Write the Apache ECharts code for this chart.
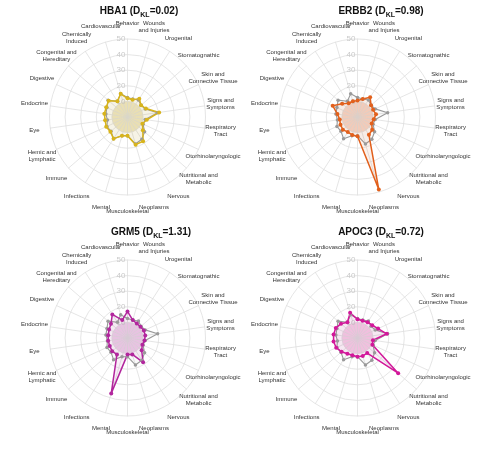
<!DOCTYPE html>
<html>
<head>
<meta charset="utf-8">
<style>
  html, body { margin: 0; padding: 0; background: #fff; }
  #chart { width: 484px; height: 449px; }
</style>
<script src="https://cdn.jsdelivr.net/npm/echarts@6/dist/echarts.min.js"></script>
</head>
<body>
<div id="chart"></div>
<script>
// ----- data
var categories = [
  'Behavior', 'Cardiovascular', 'Chemically\nInduced', 'Congenital and\nHereditary',
  'Digestive', 'Endocrine', 'Eye', 'Hemic and\nLymphatic', 'Immune', 'Infections',
  'Mental', 'Musculoskeletal', 'Neoplasms', 'Nervous', 'Nutritional and\nMetabolic',
  'Otorhinolaryngologic', 'Respiratory\nTract', 'Signs and\nSymptoms',
  'Skin and\nConnective Tissue', 'Stomatognathic', 'Urogenital', 'Wounds\nand Injuries'
];
var radialTicks = [0, 10, 20, 30, 40, 50];

var genes = ['HBA1', 'ERBB2', 'GRM5', 'APOC3'];
var dkl = ['0.02', '0.98', '1.31', '0.72'];

// background (grey) distribution, shared by all panels
var reference = [12.5, 15.5, 12, 16.5, 14.5, 14, 13, 14.5, 14, 16.5, 12.5, 12,
                 18, 17, 14.5, 11, 11.5, 19.5, 12.5, 11.5, 13, 12];

var hba1  = [12, 15.5, 12, 16, 15, 15, 14.5, 15, 14.5, 16.5, 12.5, 12,
             18.5, 18.5, 13, 10.5, 12.5, 20.5, 13, 11.5, 14, 11.5];
var erbb2 = [10.5, 10.5, 10.5, 13, 17.5, 13, 11.5, 12, 12.4, 11.5, 12, 12.4,
             48.5, 13.5, 12.5, 10, 10.5, 12, 11, 11.5, 15, 12];
var grm5  = [17, 12, 18, 14, 13, 12.5, 12.5, 12.5, 13, 12.5, 37, 10.5,
             11, 18.5, 12, 10.5, 11, 11.5, 11.5, 11, 11, 12];
var apoc3 = [12, 16.8, 12, 14, 15.3, 15.5, 15.5, 15, 13.5, 12, 11.5, 12,
             12, 11.5, 34.5, 10.5, 10, 19, 14.5, 12.5, 12, 11.5];

var geneValues = [hba1, erbb2, grm5, apoc3];

// ----- layout / styling
var panels = [
  { center: [127.5, 117], title: [139, 6],   color: '#d8b41c', fill: 'rgba(216,180,28,0.13)', disc: '#f1e8c4' },
  { center: [357.5, 117], title: [381, 6],   color: '#e2601c', fill: 'rgba(226,96,28,0.13)',  disc: '#f9dacb' },
  { center: [127.5, 338], title: [151, 227], color: '#b2269d', fill: 'rgba(178,38,157,0.11)', disc: '#f1d4ec' },
  { center: [357.5, 338], title: [381, 227], color: '#d2189a', fill: 'rgba(210,24,154,0.11)', disc: '#f8d2e8' }
];

var FONT = 'Liberation Sans, Arial, sans-serif';

var titles = [], radars = [], series = [];

panels.forEach(function (p, k) {
  titles.push({
    text: '{b|' + genes[k] + ' (D}{s|KL}{b|=' + dkl[k] + ')}',
    left: p.title[0],
    top: p.title[1],
    textAlign: 'center',
    padding: 0,
    textStyle: {
      rich: {
        b: { fontFamily: FONT, fontSize: 10, fontWeight: 'bold', color: '#111', lineHeight: 12, verticalAlign: 'top' },
        s: { fontFamily: FONT, fontSize: 7, fontWeight: 'bold', color: '#111', lineHeight: 8, padding: [6, 0, 0, 0], verticalAlign: 'top' }
      }
    }
  });

  radars.push({
    center: p.center,
    radius: 78,
    startAngle: 90,
    shape: 'circle',
    splitNumber: radialTicks.length - 1,
    nameGap: 16,
    indicator: categories.map(function (c, i) {
      var ind = { name: c, min: radialTicks[0], max: radialTicks[radialTicks.length - 1] };
      if (i === 0) ind.axisLabel = { show: true };
      return ind;
    }),
    axisName: {
      color: '#333', fontFamily: FONT, fontSize: 6, lineHeight: 7,
      align: 'center', verticalAlign: 'middle'
    },
    axisLine: { lineStyle: { color: '#dedede', width: 0.8 } },
    splitLine: { lineStyle: { color: '#dedede', width: 0.8 } },
    splitArea: { show: true, areaStyle: { color: [p.disc, 'rgba(0,0,0,0)', 'rgba(0,0,0,0)', 'rgba(0,0,0,0)', 'rgba(0,0,0,0)'] } },
    axisTick: { show: false },
    axisLabel: {
      show: false, color: '#c9c9c9', fontFamily: FONT, fontSize: 8, margin: 2,
      formatter: function (v) { return v === 0 ? '' : v; }
    }
  });

  series.push({
    type: 'radar',
    radarIndex: k,
    symbol: 'circle',
    data: [
      {
        name: 'Reference', value: reference, symbolSize: 3.5,
        lineStyle: { color: '#9a9a9a', width: 1.1 },
        itemStyle: { color: '#9a9a9a' },
        areaStyle: { color: 'rgba(150,150,150,0.07)' }
      },
      {
        name: genes[k], value: geneValues[k], symbolSize: 4,
        lineStyle: { color: p.color, width: 1.5 },
        itemStyle: { color: p.color },
        areaStyle: { color: p.fill }
      }
    ]
  });
});

var chart = echarts.init(document.getElementById('chart'));
chart.setOption({
  animation: false,
  backgroundColor: '#fff',
  title: titles,
  radar: radars,
  series: series
});
</script>
</body>
</html>
